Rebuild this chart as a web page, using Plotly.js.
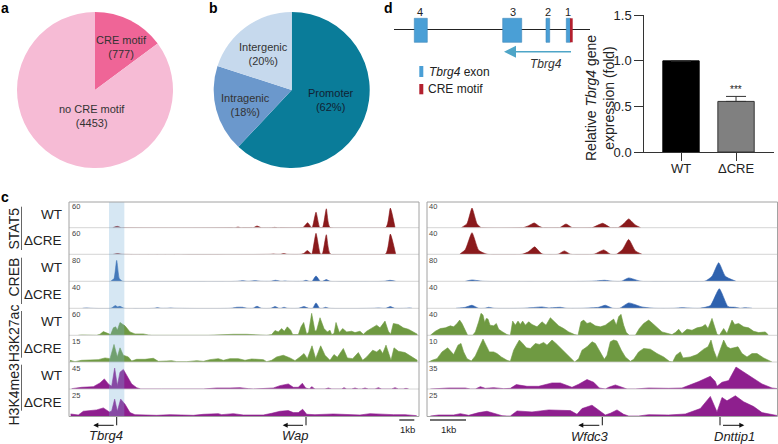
<!DOCTYPE html>
<html><head><meta charset="utf-8">
<script src="https://cdn.plot.ly/plotly-3.0.1.min.js"></script>
<style>html,body{margin:0;padding:0;background:#fff}#c{width:778px;height:444px}</style>
</head><body><div id="c"></div>
<script>
// ---- panel a / b
const motifLabels=['CRE motif','no CRE motif'];
const motifValues=[777,4453];
const regionLabels=['Promoter','Intragenic','Intergenic'];
const regionValues=[62,18,20];
// ---- panel d
const barCategories=['WT','ΔCRE'];
const barValues=[1,0.555];
const barErrors=[0,0.055];
const trackScalesLeft=[60,60,80,40,60,15,45,25];
const trackScalesRight=[40,40,80,40,40,10,35,25];
const trackConditions=['WT','ΔCRE','WT','ΔCRE','WT','ΔCRE','WT','ΔCRE'];
// ---- panel c, left locus (position along locus, signal as share of the track scale 0-80)
const stat5WtLPos=[338,352,364,706,714,722,760,771,784,816,824,832,908,916,923,934,937,948,959,968,979,990,1158,1171,1185];
const stat5WtLSig=[0,4,0,0,2,0,0,5,0,0,1,0,0,8,15,1,1,46,1,1,56,1,1,58,1];
const stat5KoLPos=[340,352,366,813,820,827,842,851,861,903,912,922,934,936,948,961,967,979,991,1157,1171,1187];
const stat5KoLSig=[0,2,0,0,1,0,0,2,0,0,3,11,1,1,62,1,1,58,1,1,60,1];
const crebWtLPos=[332,342,350,358,368,713,728,741,748,765,782,813,826,842,848,855,862,908,918,927,936,948,961,968,979,990,1153,1170,1187];
const crebWtLSig=[0,8,62,8,0,0,2,0,0,2,0,0,3,0,0,1,0,0,3,0,0,16,0,0,5,0,0,3,0];
const crebKoLPos=[248,260,272,333,346,353,360,372,463,472,482,503,512,522,693,710,728,741,758,771,784,813,825,837,843,852,862,896,912,926,938,948,959,968,977,987,1123,1135,1147,1158,1171,1184,1220,1228,1236];
const crebKoLSig=[0,1,0,0,8,4,6,0,0,2,0,0,1,0,0,3,3,0,0,6,0,0,5,0,0,3,0,0,5,0,0,16,0,0,3,0,0,1,0,0,5,0,0,1,0];
const k27WtLPos=[235,245,290,300,310,325,332,340,347,352,360,375,390,405,430,445,455,495,510,525,625,660,700,740,780,800,815,825,835,845,853,862,872,878,895,903,911,920,926,935,945,950,960,972,982,990,995,1002,1008,1018,1028,1040,1055,1065,1080,1090,1100,1115,1130,1140,1155,1165,1172,1180,1195,1210,1225,1240,1252];
const k27WtLSig=[0,1,0,3,11,5,2,22,25,15,38,28,10,4,4,1,0,0,1,0,0,2,3,3,2,0,2,14,10,20,12,25,15,2,2,25,38,3,10,65,12,15,52,20,10,15,2,5,38,8,20,10,12,8,12,3,12,20,30,22,42,12,3,35,32,22,18,10,3];
const k27KoLPos=[210,225,245,270,295,315,330,342,352,360,370,385,395,410,435,460,475,500,515,530,560,590,610,630,655,670,690,715,735,755,790,800,815,830,850,870,885,900,912,922,936,947,962,975,990,1002,1012,1030,1042,1058,1075,1088,1100,1118,1130,1140,1148,1158,1168,1173,1182,1195,1215,1235,1252];
const k27KoLSig=[5,1,5,7,7,12,10,52,15,42,20,15,3,8,8,11,2,3,4,1,1,4,2,7,10,5,10,10,5,9,7,1,5,15,20,12,4,15,25,10,48,10,48,20,5,22,14,40,12,10,28,5,15,35,30,38,25,50,15,5,42,32,28,15,5];
const k4WtLPos=[215,245,280,300,313,325,335,344,352,360,370,380,395,410,422,465,475,485,610,650,690,700,720,745,760,820,840,865,880,895,907,917,928,935,945,975,985,995,1025,1032,1040,1055,1065,1075,1085,1095,1105,1125,1135,1145,1175,1185,1195,1210,1218,1226];
const k4WtLSig=[1,5,7,18,30,15,8,62,10,50,58,40,15,4,0,0,1,0,0,3,3,4,4,1,0,3,10,15,5,5,17,3,0,7,0,0,3,0,0,4,0,0,3,0,0,3,0,0,4,0,0,4,0,0,2,0];
const k4KoLPos=[212,225,235,250,270,290,310,328,335,344,352,362,375,390,405,430,470,510,535,580,610,655,665,700,730,760,790,815,840,865,880,895,908,920,945,1000,1040,1080,1110,1140,1180,1215,1250];
const k4KoLSig=[6,5,3,14,15,18,24,12,15,50,14,50,35,10,4,3,2,4,4,2,5,7,4,7,3,3,3,8,14,16,10,10,20,5,4,6,4,3,7,5,4,4,1];
// ---- panel c, right locus
const stat5WtRPos=[138,155,170,185,198,323,340,357,372,382,433,452,471,530,562,586,608,625,640,660,676];
const stat5WtRSig=[0,12,58,12,0,0,6,14,4,0,0,11,0,0,13,0,0,12,26,8,0];
const stat5KoRPos=[133,150,170,190,216,320,340,358,375,383,428,447,466,536,565,586,603,622,640,660,680];
const stat5KoRSig=[0,14,64,12,0,0,8,22,5,0,0,10,0,0,13,0,0,15,44,10,0];
const crebWtRPos=[150,170,202,528,568,592,618,640,677,868,890,910,930,962];
const crebWtRSig=[0,4,0,0,3,0,0,10,0,0,15,55,15,0];
const crebKoRPos=[122,150,170,190,208,220,236,325,380,400,435,452,505,550,570,592,613,640,680,717,778,800,832,853,885,912,938,960,975,990,1010];
const crebKoRSig=[0,3,9,0,0,3,0,0,4,1,3,0,0,3,9,0,0,16,4,0,0,2,0,0,8,58,5,3,0,2,0];
const k27WtRPos=[45,60,75,90,105,115,125,133,140,150,157,172,180,190,197,203,208,213,218,224,235,243,250,262,275,285,292,300,308,315,322,330,340,350,365,380,392,405,418,430,445,460,478,488,497,505,515,525,540,555,570,585,595,603,610,617,625,633,642,660,672,685,700,712,725,740,770,780,790,800,815,830,845,860,870,878,890,898,905,912,925,935,942,950,958,970,985,1000,1015,1030,1050,1058];
const k27WtRSig=[0,12,20,22,28,25,35,45,35,15,0,0,10,40,65,60,38,50,48,30,28,35,18,10,2,0,42,30,42,32,42,30,40,32,25,40,30,52,38,28,20,10,2,0,40,45,35,38,28,25,30,40,48,30,55,62,30,8,0,0,20,35,45,35,22,10,2,8,18,5,18,15,22,25,32,20,50,25,3,0,20,5,25,45,32,35,25,22,12,8,10,2];
const k27KoRPos=[40,50,65,80,97,107,115,128,137,145,155,168,180,190,203,212,222,235,245,258,275,285,295,303,312,322,333,345,360,372,385,395,410,422,435,450,465,478,490,500,515,530,540,555,567,575,585,595,605,618,630,645,655,670,685,705,725,745,762,772,782,795,803,825,845,865,878,887,895,905,915,925,935,945,955,968,980,995,1010,1025,1045,1070];
const k27KoRSig=[0,5,10,30,42,30,22,50,55,30,10,3,18,40,68,50,30,30,25,15,5,2,35,50,65,55,42,40,55,52,58,50,65,55,42,28,10,0,10,35,45,60,55,30,8,20,60,65,62,35,15,2,8,30,40,38,25,15,2,0,20,30,12,15,22,38,45,65,35,10,40,65,45,40,42,45,25,15,25,25,12,0];
const k4WtRPos=[45,100,150,165,180,195,210,235,265,285,303,335,370,410,435,470,490,515,535,552,570,580,600,620,635,660,700,760,800,850,885,900,905,920,940,962,985,1010,1040,1070,1088];
const k4WtRSig=[0,3,3,0,0,7,2,4,1,2,13,8,8,18,18,5,14,28,20,3,0,5,12,5,0,0,3,2,3,22,38,22,8,20,25,65,50,32,15,3,1];
const k4KoRPos=[45,70,115,135,160,190,215,240,260,275,285,305,350,400,465,485,500,530,550,570,585,605,625,640,670,700,760,810,855,885,905,920,935,960,985,1015,1040,1070,1088];
const k4KoRSig=[0,3,3,7,2,10,14,7,1,0,0,15,12,18,16,5,22,32,18,3,8,18,5,0,0,4,3,6,22,58,12,55,45,60,42,28,10,3,1];

const W=778,H=444;
const RED='#8a1a1c',BLUE='#2f62ae',GREEN='#6f9a42',PURPLE='#8e1f8e';
const px=x=>x/W, py=y=>1-y/H;
const font='"Liberation Sans", Arial, sans-serif';
const bases=[227.7,254.3,281.3,308.3,335.3,362,389,416];
const tracks=[
 [stat5WtLPos,stat5WtLSig,stat5WtRPos,stat5WtRSig,RED,'spline'],
 [stat5KoLPos,stat5KoLSig,stat5KoRPos,stat5KoRSig,RED,'spline'],
 [crebWtLPos,crebWtLSig,crebWtRPos,crebWtRSig,BLUE,'spline'],
 [crebKoLPos,crebKoLSig,crebKoRPos,crebKoRSig,BLUE,'spline'],
 [k27WtLPos,k27WtLSig,k27WtRPos,k27WtRSig,GREEN,'linear'],
 [k27KoLPos,k27KoLSig,k27KoRPos,k27KoRSig,GREEN,'linear'],
 [k4WtLPos,k4WtLSig,k4WtRPos,k4WtRSig,PURPLE,'linear'],
 [k4KoLPos,k4KoLSig,k4KoRPos,k4KoRSig,PURPLE,'linear']
];
const data=[];
const layout={width:W,height:H,margin:{l:0,r:0,t:0,b:0},showlegend:false,paper_bgcolor:'#fff',plot_bgcolor:'rgba(0,0,0,0)',
 font:{family:font,color:'#222'},shapes:[],annotations:[],
 xaxis:{domain:[px(69),px(419)],range:[207,1257],visible:false,fixedrange:true},
 xaxis2:{domain:[px(427),1],range:[35,1088],visible:false,fixedrange:true},
 xaxis3:{domain:[px(644.3),px(774)],range:[-0.667,1.69],type:'category',showline:true,linecolor:'#333',linewidth:1,ticks:'outside',ticklen:8,tickcolor:'#333',tickfont:{size:13,color:'#222'},ticklabelstandoff:-4,anchor:'y9',showgrid:false,zeroline:false,fixedrange:true},
 yaxis9:{domain:[py(152),py(15.3)],range:[0,1.5],tickvals:[0,0.5,1,1.5],ticktext:['0.0','0.5','1.0','1.5'],showline:true,linecolor:'#333',linewidth:1,ticks:'outside',ticklen:9,tickcolor:'#333',tickfont:{size:13,color:'#222'},anchor:'x3',showgrid:false,zeroline:false,fixedrange:true}
};
const note=(text,x,y,size,o={})=>layout.annotations.push(Object.assign({text,x:px(x),y:py(y),xref:'paper',yref:'paper',showarrow:false,font:{size,family:font,color:'#222'},xanchor:'center',yanchor:'middle'},o));
const rect=(x0,x1,y0,y1,fill,o={})=>layout.shapes.push(Object.assign({type:'rect',xref:'paper',yref:'paper',x0:px(x0),x1:px(x1),y0:py(y0),y1:py(y1),fillcolor:fill,line:{width:0}},o));
const seg=(x0,y0,x1,y1,color,w)=>layout.shapes.push({type:'line',xref:'paper',yref:'paper',x0:px(x0),x1:px(x1),y0:py(y0),y1:py(y1),line:{color,width:w}});
const arrow=(x0,y,x1,color,w,size)=>layout.annotations.push({xref:'paper',yref:'paper',x:px(x1),y:py(y),ax:x0-x1,ay:0,axref:'pixel',ayref:'pixel',showarrow:true,arrowhead:2,arrowsize:size,arrowwidth:w,arrowcolor:color,standoff:0,startstandoff:0});

// pies
data.push({type:'pie',labels:motifLabels,values:motifValues,sort:false,direction:'clockwise',rotation:0,textinfo:'none',hoverinfo:'skip',
 marker:{colors:['#ef6597','#f6bbd5'],line:{width:0}},domain:{x:[px(17),px(173)],y:[py(168),py(12)]}});
data.push({type:'pie',labels:regionLabels,values:regionValues,sort:false,direction:'clockwise',rotation:0,textinfo:'none',hoverinfo:'skip',
 marker:{colors:['#0a7c99','#6b98cc','#c6d9ed'],line:{width:0}},domain:{x:[px(213.7),px(369.7)],y:[py(168),py(12)]}});
const pieFont='#333';
note(motifLabels[0]+'<br>('+motifValues[0]+')',121.7,47.5,11,{font:{size:11,family:font,color:pieFont}});
note(motifLabels[1]+'<br>('+motifValues[1]+')',92,116,11,{font:{size:11,family:font,color:pieFont}});
note(regionLabels[2]+'<br>('+regionValues[2]+'%)',263,54.3,11,{font:{size:11,family:font,color:pieFont}});
note(regionLabels[1]+'<br>('+regionValues[1]+'%)',245.3,105,11,{font:{size:11,family:font,color:pieFont}});
note(regionLabels[0]+'<br>('+regionValues[0]+'%)',331,100,11,{font:{size:11,family:font,color:'#123'}});

// tracks
tracks.forEach((t,i)=>{
 const yn=i+1, yk='yaxis'+(yn===1?'':yn);
 layout[yk]={domain:[py(bases[i]),py(bases[i]-27)],range:[0,80],visible:false,fixedrange:true,anchor:'x'};
 const ya='y'+(yn===1?'':yn);
 data.push({type:'scatter',mode:'lines',x:t[0],y:t[1],xaxis:'x',yaxis:ya,fill:'tozeroy',fillcolor:t[4],line:{color:t[4],width:0.6,shape:t[5],smoothing:0.5},hoverinfo:'skip'});
 data.push({type:'scatter',mode:'lines',x:t[2],y:t[3],xaxis:'x2',yaxis:ya,fill:'tozeroy',fillcolor:t[4],line:{color:t[4],width:0.6,shape:t[5],smoothing:0.5},hoverinfo:'skip'});
 if(i<7){ seg(69,bases[i],419,bases[i],'#c9c9c9',0.8); seg(427,bases[i],778,bases[i],'#c9c9c9',0.8); }
 note(String(trackScalesLeft[i]),76,bases[i]-21,7.5,{font:{size:7.5,family:font,color:'#444'}});
 note(String(trackScalesRight[i]),433,bases[i]-21,7.5,{font:{size:7.5,family:font,color:'#444'}});
 note(trackConditions[i],63.5,bases[i]-13.5,13.5,{xanchor:'right',font:{size:13.5,family:font,color:'#222'}});
});
// highlighted region
layout.shapes.push({type:'rect',xref:'x',yref:'paper',x0:327,x1:373,y0:py(416.5),y1:py(202),fillcolor:'rgba(120,175,215,0.30)',line:{width:0},layer:'above'});
// panel frames
rect(69,419,202,416.5,'rgba(0,0,0,0)',{line:{color:'#a2a2a2',width:1}});
rect(427,777.5,202,416.5,'rgba(0,0,0,0)',{line:{color:'#a2a2a2',width:1}});
// group labels
[['STAT5',229,206.7,250],['CREB',277,257.7,304],['H3K27ac',333.7,311,357.7],['H3K4me3',395,364.7,410.7]].forEach(g=>{
 note(g[0],13.5,g[1],14,{textangle:-90});
 seg(21.5,g[2],21.5,g[3],'#666',1);
});
// gene markers
const geneY=417, armY=425.3;
[[116.7,93.3],[306,282.7],[602.3,578.3],[720,744.3]].forEach(g=>{
 seg(g[0],geneY,g[0],armY,'#111',1);
 arrow(g[0],armY,g[1],'#111',1,1);
});
note('<i>Tbrg4</i>',106,435.7,13);
note('<i>Wap</i>',295.7,435.7,13);
note('<i>Wfdc3</i>',590,436,13);
note('<i>Dnttip1</i>',734,436,13);
seg(399.3,420,414.3,420,'#444',1.5);
seg(430,420,466,420,'#444',1.5);
note('1kb',407,429.5,9.5);
note('1kb',448.3,429.5,9.5);
// panel letters
[['a',5,8],['b',213,8],['c',5,197],['d',388,8]].forEach(l=>note('<b>'+l[0]+'</b>',l[1],l[2],14,{font:{size:14,family:font,color:'#000'}}));
// gene schematic
const EXON='#4a9fd6',EXLINE='#3f87b8',CRE='#b3202e';
seg(394,29.5,590,29.5,'#222',1.2);
[[414.3,427.3,18.3,42.3],[502.7,521.7,18.3,42.3],[546,549.7,18.3,42.3],[566.3,570.3,18.3,42.3]].forEach(e=>rect(e[0],e[1],e[2],e[3],EXON,{line:{color:EXLINE,width:0.6}}));
rect(570,572.7,18.3,42.3,CRE);
[['4',420,11.7],['3',512.7,11.7],['2',547.7,11.7],['1',568,11.7]].forEach(l=>note(l[0],l[1],l[2],11));
arrow(574,51.7,504,'#4ea5c7',1.5,1.6);
note('<i>Tbrg4</i>',545.7,64,12,{font:{size:12,family:font,color:'#333'}});
rect(419.3,423.3,66,77,EXON);
note('<i>Tbrg4</i> exon',427,72,12,{xanchor:'left'});
rect(419.3,423.3,84,94.3,CRE);
note('CRE motif',426,89,12,{xanchor:'left'});
// bar chart
data.push({type:'bar',x:barCategories,y:barValues,xaxis:'x3',yaxis:'y9',width:0.66,
 marker:{color:['#000','#808080'],line:{color:['#000','#333'],width:1}},
 error_y:{type:'data',array:barErrors,arrayminus:[0,0],symmetric:false,color:'#333',thickness:1,width:10},hoverinfo:'skip'});
layout.annotations.push({xref:'x3',yref:'y9',x:barCategories[1],y:0.69,text:'***',showarrow:false,font:{size:10,family:font,color:'#222'},yanchor:'middle'});
note('Relative <i>Tbrg4</i> gene<br>expression (fold)',599.5,98.5,14,{textangle:-90});
Plotly.newPlot('c',data,layout,{staticPlot:true,displayModeBar:false});
</script></body></html>
